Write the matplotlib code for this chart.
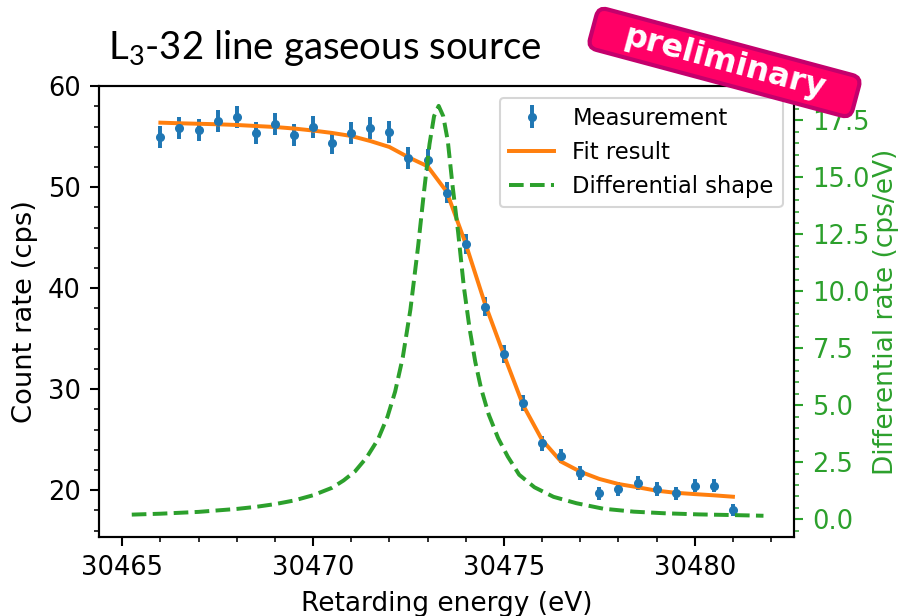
import matplotlib
matplotlib.use("Agg")
import matplotlib.pyplot as plt
from matplotlib.patches import FancyBboxPatch
from matplotlib.transforms import Affine2D
from matplotlib.ticker import MultipleLocator

# ---- data ----
energy = [30466.0, 30466.5, 30467.0, 30467.5, 30468.0, 30468.5, 30469.0, 30469.5,
          30470.0, 30470.5, 30471.0, 30471.5, 30472.0, 30472.5, 30473.0, 30473.5,
          30474.0, 30474.5, 30475.0, 30475.5, 30476.0, 30476.5, 30477.0, 30477.5,
          30478.0, 30478.5, 30479.0, 30479.5, 30480.0, 30480.5, 30481.0]
rate = [54.95, 55.84, 55.67, 56.56, 56.99, 55.41, 56.24, 55.15,
        55.94, 54.36, 55.35, 55.84, 55.50, 52.87, 52.70, 49.46,
        44.39, 38.18, 33.47, 28.67, 24.65, 23.40, 21.68, 19.70,
        20.10, 20.75, 20.10, 19.70, 20.46, 20.46, 18.05]
rate_err = [1.10, 1.10, 1.10, 1.10, 1.10, 1.10, 1.10, 1.10,
            1.10, 1.10, 1.10, 1.10, 1.10, 1.08, 1.08, 1.05,
            1.00, 0.93, 0.87, 0.80, 0.75, 0.72, 0.70, 0.67,
            0.67, 0.68, 0.67, 0.67, 0.68, 0.68, 0.63]
fit = [56.40, 56.34, 56.29, 56.24, 56.17, 56.07, 55.97, 55.82,
       55.62, 55.38, 55.08, 54.58, 53.99, 52.97, 52.08, 49.56,
       44.39, 38.51, 33.40, 28.45, 24.98, 22.83, 21.84, 21.12,
       20.62, 20.30, 19.96, 19.75, 19.62, 19.50, 19.36]

diff_e = [30465.25, 30466.0, 30467.0, 30468.0, 30468.5, 30469.0, 30469.5, 30470.0,
          30470.5, 30470.8, 30471.1, 30471.4, 30471.7, 30471.95, 30472.15, 30472.35,
          30472.55, 30472.75, 30472.9, 30473.05, 30473.17, 30473.29, 30473.41, 30473.53,
          30473.65, 30473.8, 30473.95, 30474.1, 30474.25, 30474.4, 30474.6, 30474.85,
          30475.1, 30475.4, 30475.8, 30476.3, 30476.9, 30477.6, 30478.4, 30479.2,
          30480.1, 30481.0, 30481.8]
diff_rate = [0.20, 0.24, 0.32, 0.45, 0.54, 0.66, 0.82, 1.05,
             1.38, 1.70, 2.10, 2.70, 3.50, 4.50, 5.60, 7.10,
             9.20, 11.95, 14.28, 16.46, 17.69, 18.14, 17.69, 16.60,
             14.70, 12.60, 10.20, 8.37, 6.90, 5.75, 4.60, 3.55,
             2.75, 1.95, 1.40, 0.98, 0.70, 0.46, 0.33, 0.26,
             0.21, 0.18, 0.15]

BLUE, ORANGE, GREEN = "#1f77b4", "#ff7f0e", "#2ca02c"
plt.rcParams["axes.formatter.useoffset"] = False

fig = plt.figure(figsize=(8.98, 6.16), dpi=100)
ax = fig.add_axes([0.1106, 0.1287, 0.7736, 0.7312])
ax2 = ax.twinx()

h1 = ax.errorbar(energy, rate, yerr=rate_err, fmt=".", color=BLUE, ms=11,
                 elinewidth=2.85, label="Measurement")
h2, = ax.plot(energy, fit, color=ORANGE, lw=2.85, label="Fit result")
h3, = ax2.plot(diff_e, diff_rate, "--", color=GREEN, lw=2.85, label="Differential shape")

ax.set_xlim(30464.4, 30482.6)
ax.set_ylim(15.4, 60)
ax2.set_ylim(-0.77, 19.0)

ax.set_xlabel("Retarding energy (eV)", fontsize=19, labelpad=7)
ax.set_ylabel("Count rate (cps)", fontsize=19.7, labelpad=7)
ax2.set_ylabel("Differential rate (cps/eV)", fontsize=19, color=GREEN, labelpad=2)

for a in (ax, ax2):
    a.minorticks_on()
    a.tick_params(which="major", length=6.65, width=1.5, labelsize=18.5, pad=6.65)
    a.tick_params(which="minor", length=3.8, width=1.14)
    for s in a.spines.values():
        s.set_linewidth(1.5)
ax.xaxis.set_major_locator(MultipleLocator(5))
ax.xaxis.set_minor_locator(MultipleLocator(1))
ax2.tick_params(axis="y", which="both", colors=GREEN)

leg = ax2.legend([h1, h2, h3], ["Measurement", "Fit result", "Differential shape"],
                 loc="upper right", fontsize=16.3)
leg.get_frame().set_linewidth(1.5)

# slide title
plt.rcParams["mathtext.fontset"] = "custom"
plt.rcParams["mathtext.rm"] = "Lato"
fig.text(108 / 898, 1 - 48 / 616, r"L$_\mathrm{3}$-32 line gaseous source",
         ha="left", va="center", fontsize=27.6, family="Lato", color="black")

# "preliminary" stamp
cx, cy = 724.5, 616 - 62.5
tr = Affine2D().rotate_deg(-15).translate(cx, cy)
box = FancyBboxPatch((-136, -21), 272, 42, boxstyle="round,pad=0,rounding_size=9",
                     fc="#ff0066", ec="#c4006c", lw=3, transform=tr, zorder=10)
fig.add_artist(box)
fig.text(cx / 898, cy / 616, "preliminary", rotation=-15, rotation_mode="anchor",
         ha="center", va="center", fontsize=23, fontweight="bold", color="white", zorder=11)

fig.savefig("out.png", dpi=100)
